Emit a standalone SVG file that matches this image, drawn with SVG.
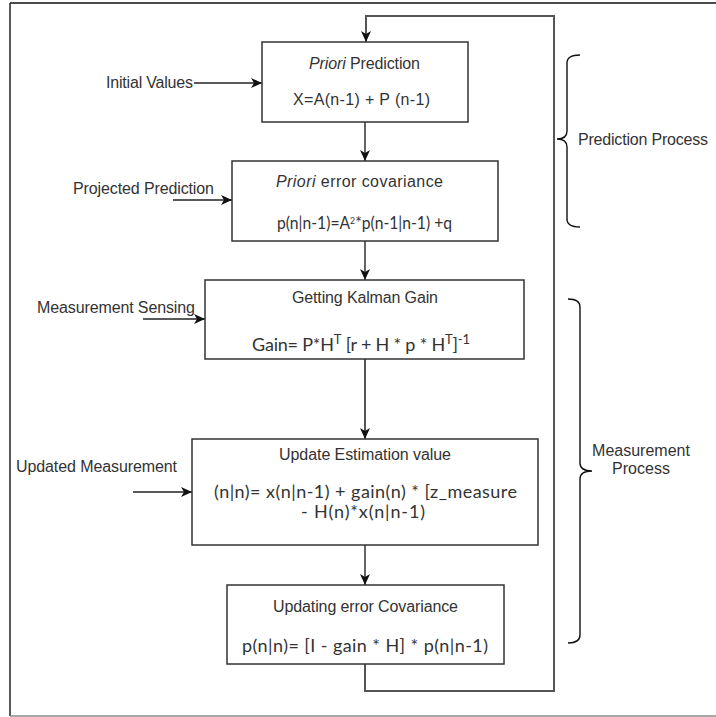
<svg xmlns="http://www.w3.org/2000/svg" width="716" height="717" viewBox="0 0 716 717">
<defs>
<marker id="ah" markerUnits="userSpaceOnUse" markerWidth="12" markerHeight="12" viewBox="0 0 12 12" refX="11" refY="6" orient="auto">
<path d="M0,1 L11,6 L0,11 L3,6 Z" fill="#111"/>
</marker>
<style>
.box{fill:#fff;stroke:#333;stroke-width:1.5}
.ln{fill:none;stroke:#222;stroke-width:1.4}
.gl{fill:none;stroke:#555;stroke-width:2}
.br{fill:none;stroke:#111;stroke-width:1.4}
.t{font-family:"Liberation Sans",Arial,sans-serif;font-size:16px;fill:#333}
.f{font-family:Lato,"Liberation Sans",sans-serif;font-size:18px;fill:#333}
.c{text-anchor:middle}
</style>
</defs>
<rect width="716" height="717" fill="#fff"/>
<g id="frame">
<line x1="10" y1="3" x2="716" y2="3" stroke="#111" stroke-width="1.5"/>
<line x1="10" y1="3" x2="10" y2="716" stroke="#222" stroke-width="1.5"/>
<line x1="10" y1="716" x2="716" y2="716" stroke="#888" stroke-width="1.5"/>
</g>
<g id="connectors">
<line class="ln" x1="365" y1="122" x2="365" y2="161" marker-end="url(#ah)"/>
<line class="ln" x1="365" y1="241" x2="365" y2="280" marker-end="url(#ah)"/>
<line class="gl" x1="365" y1="359" x2="365" y2="439" marker-end="url(#ah)"/>
<line class="ln" x1="365" y1="545" x2="365" y2="585" marker-end="url(#ah)"/>
<polyline class="gl" points="365,664 365,691 554,691 554,16 366,16 366,42" marker-end="url(#ah)"/>
<line class="ln" x1="194" y1="83" x2="262" y2="83" marker-end="url(#ah)"/>
<line class="ln" x1="173" y1="200" x2="232" y2="200" marker-end="url(#ah)"/>
<line class="ln" x1="143" y1="319" x2="205" y2="319" marker-end="url(#ah)"/>
<line class="ln" x1="133" y1="492" x2="192" y2="492" marker-end="url(#ah)"/>
</g>
<g id="initial-values"><text class="t" x="106" y="88" textLength="87">Initial Values</text></g>
<g id="projected-prediction"><text class="t" x="73" y="194" textLength="141">Projected Prediction</text></g>
<g id="measurement-sensing"><text class="t" x="37" y="313" textLength="158">Measurement Sensing</text></g>
<g id="updated-measurement"><text class="t" x="16" y="472" textLength="161">Updated Measurement</text></g>
<g id="priori-prediction">
<rect class="box" x="262" y="42" width="206" height="80"/>
<text class="t" x="309" y="69" textLength="111"><tspan font-style="italic">Priori</tspan> Prediction</text>
<text class="t" x="293" y="105" font-size="16.5" textLength="137">X=A(n-1) + P (n-1)</text>
</g>
<g id="priori-error-covariance">
<rect class="box" x="232" y="161" width="266" height="80"/>
<text class="t" x="276" y="187" font-size="16.5" textLength="167"><tspan font-style="italic">Priori</tspan> error covariance</text>
<text class="f" x="277" y="229" font-size="13" textLength="175" lengthAdjust="spacingAndGlyphs">p(n|n-1)=A<tspan dy="-5" font-size="10">2</tspan><tspan dy="5">*p(n-1|n-1) +q</tspan></text>
</g>
<g id="kalman-gain">
<rect class="box" x="205" y="280" width="319" height="79"/>
<text class="t" x="292" y="303" textLength="146">Getting Kalman Gain</text>
<text class="f" x="252" y="351" font-size="18.5" textLength="218">Gain= P*H<tspan dy="-7" font-size="13">T</tspan><tspan dy="7"> [r + H * p * H</tspan><tspan dy="-7" font-size="13">T</tspan><tspan dy="7">]</tspan><tspan dy="-7" font-size="13">-1</tspan></text>
</g>
<g id="update-estimation">
<rect class="box" x="192" y="439" width="346" height="106"/>
<text class="t" x="279" y="460" textLength="172">Update Estimation value</text>
<text class="f" x="214" y="498" font-size="19" textLength="303">(n|n)= x(n|n-1) + gain(n) * [z_measure</text>
<text class="f" x="301" y="518" font-size="19" textLength="124">- H(n)*x(n|n-1)</text>
</g>
<g id="update-covariance">
<rect class="box" x="227" y="585" width="277" height="79"/>
<text class="t" x="273" y="612" textLength="185">Updating error Covariance</text>
<text class="f" x="242" y="652" font-size="19" textLength="246">p(n|n)= [I - gain * H] * p(n|n-1)</text>
</g>
<g id="prediction-process">
<path class="br" d="M580,55 Q567,55 567,63 L567,131 Q567,139 557,139 Q567,139 567,147 L567,219 Q567,227 580,227"/>
<text class="t" x="578" y="145" textLength="130">Prediction Process</text>
</g>
<g id="measurement-process">
<path class="br" d="M568,299 Q580,299 580,307 L580,463 Q580,471 592,471 Q580,471 580,479 L580,635 Q580,643 568,643"/>
<text class="t c" x="641" y="456">Measurement</text>
<text class="t c" x="641" y="474">Process</text>
</g>
</svg>
